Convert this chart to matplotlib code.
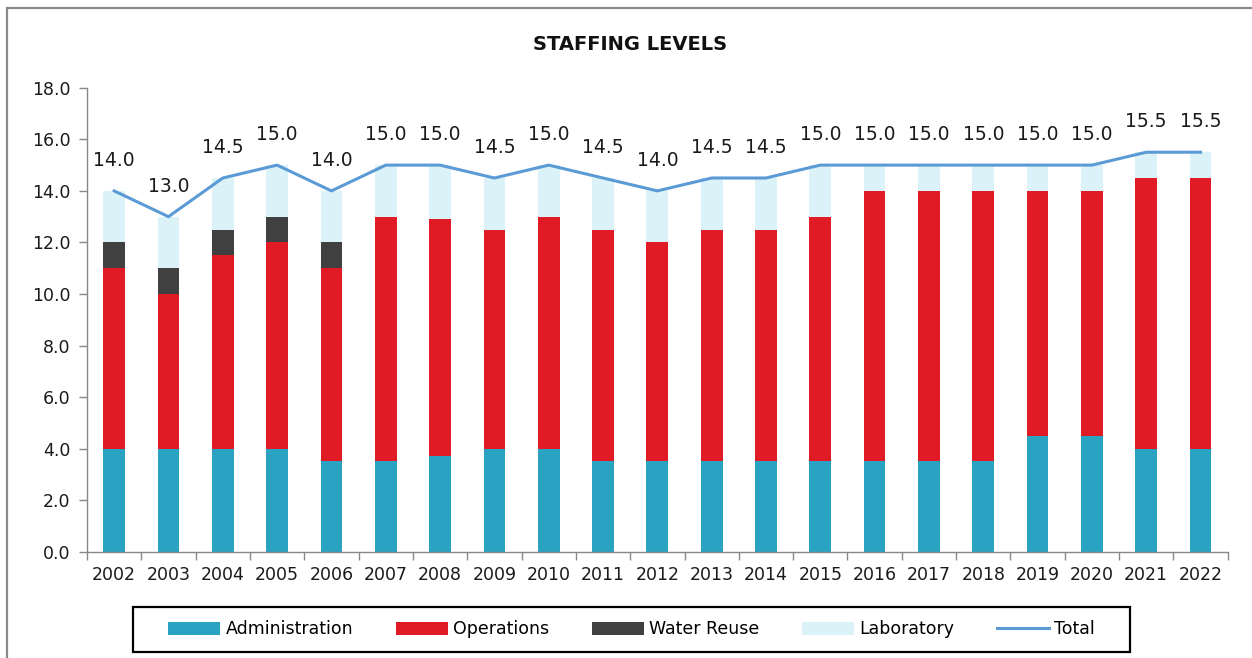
import matplotlib
matplotlib.use("Agg")
import matplotlib.pyplot as plt
from matplotlib.patches import Rectangle
import numpy as np

years = [str(y) for y in range(2002, 2023)]
administration = [4.0, 4.0, 4.0, 4.0, 3.5, 3.5, 3.7, 4.0, 4.0, 3.5, 3.5,
                  3.5, 3.5, 3.5, 3.5, 3.5, 3.5, 4.5, 4.5, 4.0, 4.0]
operations = [7.0, 6.0, 7.5, 8.0, 7.5, 9.5, 9.2, 8.5, 9.0, 9.0, 8.5,
              9.0, 9.0, 9.5, 10.5, 10.5, 10.5, 9.5, 9.5, 10.5, 10.5]
water_reuse = [1.0, 1.0, 1.0, 1.0, 1.0, 0, 0, 0, 0, 0, 0,
               0, 0, 0, 0, 0, 0, 0, 0, 0, 0]
laboratory = [2.0, 2.0, 2.0, 2.0, 2.0, 2.0, 2.1, 2.0, 2.0, 2.0, 2.0,
              2.0, 2.0, 2.0, 1.0, 1.0, 1.0, 1.0, 1.0, 1.0, 1.0]
total = [14.0, 13.0, 14.5, 15.0, 14.0, 15.0, 15.0, 14.5, 15.0, 14.5, 14.0,
         14.5, 14.5, 15.0, 15.0, 15.0, 15.0, 15.0, 15.0, 15.5, 15.5]
yticks = [0, 2, 4, 6, 8, 10, 12, 14, 16, 18]

W, H = 1252, 658
fig = plt.figure(figsize=(W / 100, H / 100), dpi=100)
fig.patch.set_facecolor("white")

# outer chart frame
fig.add_artist(Rectangle((7 / W, -0.05), 1.1, 1 - 8 / H + 0.05,
                         transform=fig.transFigure, fill=False,
                         edgecolor="#8a8a8a", linewidth=1.6))

ax = fig.add_axes([87 / W, 1 - 551.7 / H, (1227.7 - 87) / W, (551.7 - 87.8) / H])

x = np.arange(len(years))
bw = 0.4
c_admin = "#2AA3C2"
c_ops = "#E01B26"
c_reuse = "#404040"
c_lab = "#DAF2F8"
c_total = "#5B9BD5"

adm = np.array(administration)
ops = np.array(operations)
reu = np.array(water_reuse)
lab = np.array(laboratory)

h_adm = ax.bar(x, adm, bw, color=c_admin, label="Administration", zorder=2)
h_ops = ax.bar(x, ops, bw, bottom=adm, color=c_ops, label="Operations", zorder=2)
h_reu = ax.bar(x, reu, bw, bottom=adm + ops, color=c_reuse, label="Water Reuse", zorder=2)
h_lab = ax.bar(x, lab, bw, bottom=adm + ops + reu, color=c_lab, label="Laboratory", zorder=2)
h_tot, = ax.plot(x, total, color=c_total, linewidth=2.2, label="Total", zorder=3)

for xi, t in zip(x, total):
    ax.annotate(f"{t:.1f}", (xi, t), xytext=(0, 22), textcoords="offset points",
                ha="center", va="center", fontsize=13.5, color="#1a1a1a")

ax.set_xlim(-0.5, len(years) - 0.5)
ax.set_ylim(0, 18)
ax.set_yticks(yticks)
ax.set_yticklabels([f"{v:.1f}" for v in yticks], fontsize=12.5, color="#1a1a1a")
ax.set_xticks(x)
ax.set_xticklabels(years, fontsize=12.5, color="#1a1a1a")
ax.tick_params(axis="x", length=0, pad=10)
ax.set_xticks(np.arange(-0.5, len(years)), minor=True)
ax.tick_params(axis="x", which="minor", length=6, color="#888888", width=1)
ax.tick_params(axis="y", length=6, color="#888888", width=1, pad=6)
for s in ["top", "right"]:
    ax.spines[s].set_visible(False)
for s in ["left", "bottom"]:
    ax.spines[s].set_color("#888888")
    ax.spines[s].set_linewidth(1)

fig.text(0.5036, 1 - 45 / H, "STAFFING LEVELS", ha="center", va="center",
         fontsize=14, fontweight="bold", color="#111111")

handles = [h_adm, h_ops, h_reu, h_lab, h_tot]
labels = [h.get_label() for h in handles]
leg = fig.legend(handles, labels, loc="center", ncol=5,
                 bbox_to_anchor=(631.5 / W, 1 - 629.5 / H),
                 fontsize=12.5, frameon=False,
                 handlelength=3.0, handleheight=0.7, handletextpad=0.3,
                 borderpad=0.3, borderaxespad=0, columnspacing=2.45)

# legend box
fig.add_artist(Rectangle((133 / W, 1 - 652 / H), 997 / W, 45 / H,
                         transform=fig.transFigure, fill=False,
                         edgecolor="black", linewidth=1.6))

fig.savefig("out.png", dpi=100, facecolor="white")
